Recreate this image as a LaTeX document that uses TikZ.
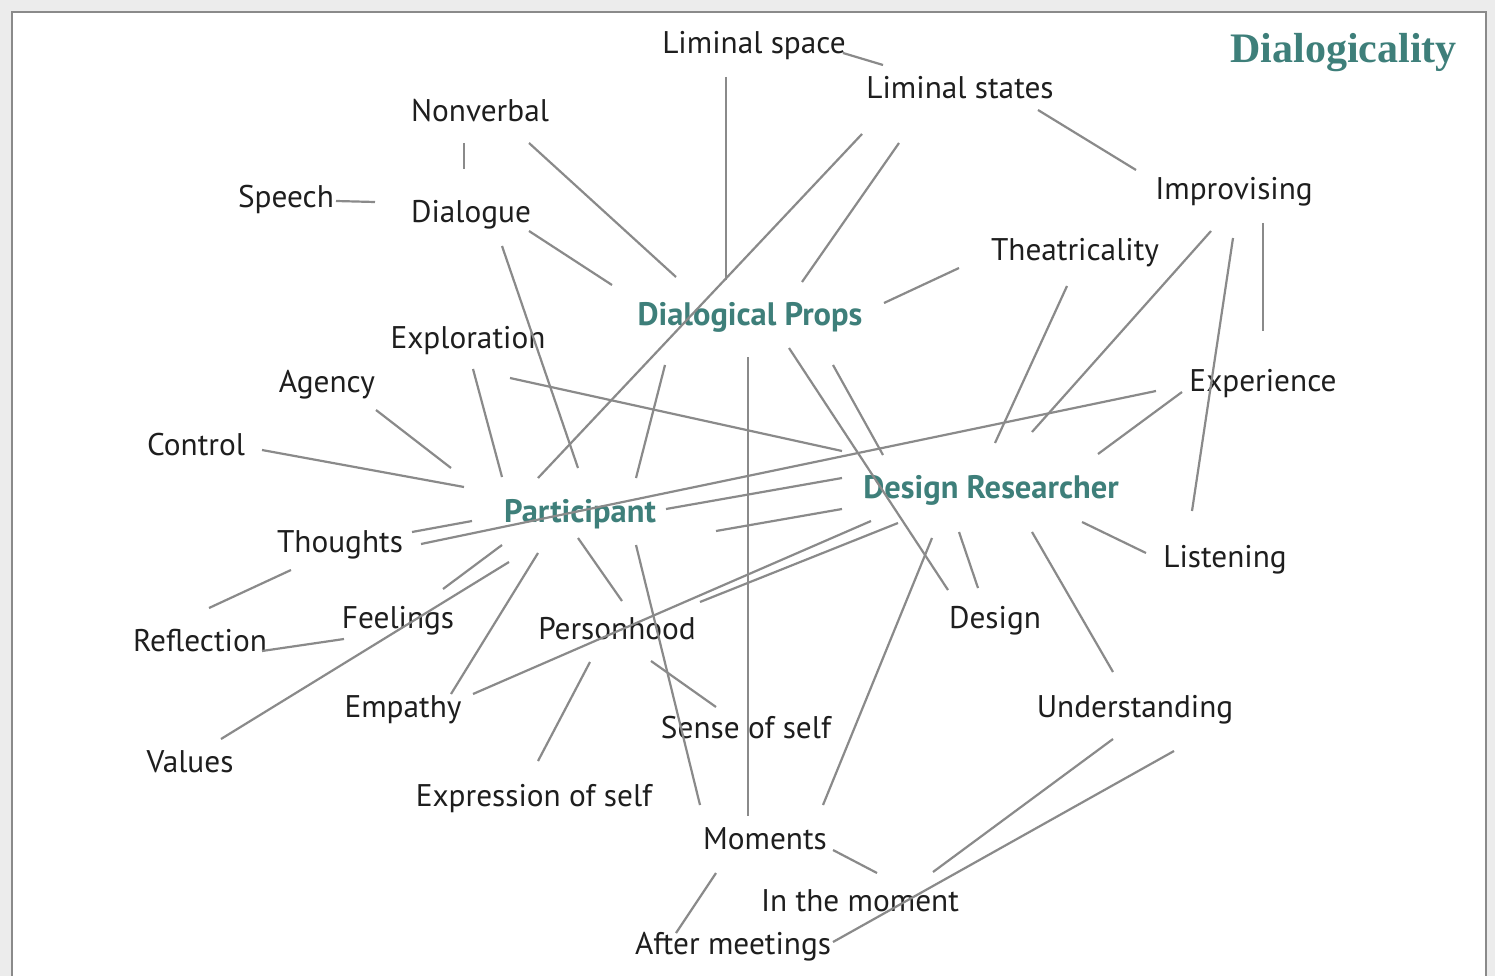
\documentclass[tikz,border=0pt]{standalone}
\usepackage{fontspec}
\setmainfont{PT Sans}
\newfontfamily\titlefont{Liberation Serif}
\definecolor{teal1}{RGB}{62,127,122}
\definecolor{linegray}{RGB}{138,138,138}
\definecolor{txt}{RGB}{30,30,30}
\definecolor{outbg}{RGB}{236,236,236}
\begin{document}
\begin{tikzpicture}[x=1pt,y=-1pt,
  lbl/.style={anchor=base,inner sep=0pt,text=txt,font=\fontsize{31.3}{36}\selectfont},
  hub/.style={anchor=base,inner sep=0pt,text=teal1,font=\fontsize{32.5}{36}\selectfont\bfseries},
  conn/.style={draw=linegray,line width=2.2pt},
  frame/.style={draw=linegray,line width=2pt,fill=white}]
\useasboundingbox (0,0) rectangle (1495,976);
\fill[outbg] (0,0) rectangle (1495,976);
\path[frame] (12,12) -- (1486,12) -- (1486,990) -- (12,990) -- cycle;
% title
\node[anchor=base east,inner sep=0pt,text=teal1,font=\titlefont\fontsize{42}{48}\selectfont\bfseries] (title) at (1457,63) {Dialogicality};
% labels
\node[lbl] (limspace) at (754,54) {Liminal space};
\node[lbl] (limstates) at (960,99) {Liminal states};
\node[lbl] (nonverbal) at (480,122) {Nonverbal};
\node[lbl] (speech) at (286,208) {Speech};
\node[lbl] (dialogue) at (471,223) {Dialogue};
\node[lbl] (improv) at (1234,200) {Improvising};
\node[lbl] (theat) at (1075,260) {Theatricality};
\node[hub] (props) at (750,325) {Dialogical Props};
\node[lbl] (explor) at (468,348) {Exploration};
\node[lbl] (agency) at (327,392) {Agency};
\node[lbl] (exper) at (1263,391) {Experience};
\node[lbl] (control) at (196,455) {Control};
\node[hub] (designres) at (991,498) {Design Researcher};
\node[hub] (particip) at (580,522) {Participant};
\node[lbl] (thoughts) at (340,552) {Thoughts};
\node[lbl] (listen) at (1225,567) {Listening};
\node[lbl] (feelings) at (398,628) {Feelings};
\node[lbl] (design) at (995,628) {Design};
\node[lbl] (reflect) at (200,651) {Reflection};
\node[lbl] (person) at (617,639) {Personhood};
\node[lbl] (empathy) at (403,717) {Empathy};
\node[lbl] (underst) at (1135,717) {Understanding};
\node[lbl] (senseself) at (746,738) {Sense of self};
\node[lbl] (values) at (190,772) {Values};
\node[lbl] (exprself) at (534,806) {Expression of self};
\node[lbl] (moments) at (765,849) {Moments};
\node[lbl] (inmoment) at (860,911) {In the moment};
\node[lbl] (after) at (733,954) {After meetings};
% connectors
\foreach \n/\xa/\ya/\xb/\yb in {
 c1/843/53/883/65,
 c2/726/77/726/280,
 c3/862/134/538/478,
 c4/899/143/802/282,
 c5/1038/110/1136/170,
 c6/464/143/464/169,
 c7/336/201/375/202,
 c8/529/143/676/277,
 c9/529/231/612/285,
 c10/502/246/578/468,
 c11/884/303/959/268,
 c12/748/357/748/816,
 c13/789/348/948/590,
 c14/833/365/883/455,
 c15/665/365/636/478,
 c16/473/369/502/477,
 c17/510/378/842/451,
 c18/376/410/451/468,
 c19/262/450/464/487,
 c20/412/532/472/521,
 c21/421/544/1156/391,
 c22/666/509/842/478,
 c23/716/531/842/509,
 c24/871/521/473/694,
 c25/898/523/700/602,
 c26/932/538/823/805,
 c27/959/532/978/588,
 c28/1032/532/1113/672,
 c29/1082/522/1146/553,
 c30/1098/454/1182/392,
 c31/1067/286/995/443,
 c32/1211/231/1032/432,
 c33/1233/238/1192/511,
 c34/1263/223/1263/331,
 c35/502/545/443/589,
 c36/509/562/221/739,
 c37/538/553/451/694,
 c38/578/538/622/601,
 c39/636/545/700/805,
 c40/291/570/209/608,
 c41/262/651/344/639,
 c42/590/662/538/761,
 c43/651/661/716/707,
 c44/833/850/877/873,
 c45/716/873/676/933,
 c46/1113/739/933/872,
 c47/1174/751/833/942}
{
 \coordinate (\n a) at (\xa,\ya);
 \coordinate (\n b) at (\xb,\yb);
 \draw[conn] (\n a) -- (\n b);
}
\end{tikzpicture}
\end{document}
